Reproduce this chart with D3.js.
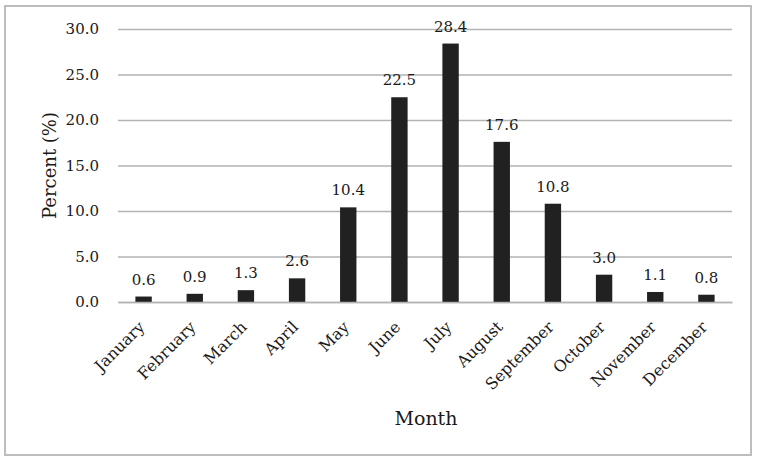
<!DOCTYPE html>
<html>
<head>
<meta charset="utf-8">
<script src="https://cdn.jsdelivr.net/npm/d3@7"></script>
<style>
  body { margin: 0; background: #fff; }
  svg text { font-family: "DejaVu Serif", "Liberation Serif", serif; fill: #1a1a1a; }
</style>
</head>
<body>
<svg id="chart" width="761" height="463"></svg>
<script>
// data
const months = ['January', 'February', 'March', 'April', 'May', 'June', 'July',
  'August', 'September', 'October', 'November', 'December'];
const percent = [0.6, 0.9, 1.3, 2.6, 10.4, 22.5, 28.4, 17.6, 10.8, 3.0, 1.1, 0.8];
const yTicks = [0, 5, 10, 15, 20, 25, 30];

const svg = d3.select('#chart');
const W = 761, H = 463;

// outer frame
svg.append('rect')
  .attr('x', 5).attr('y', 6).attr('width', 746).attr('height', 449)
  .attr('fill', 'none').attr('stroke', '#bdbdbd').attr('stroke-width', 2);

const margin = { top: 29, right: 29, bottom: 161, left: 118 };
const plotW = W - margin.left - margin.right;
const plotH = H - margin.top - margin.bottom;
const g = svg.append('g').attr('transform', `translate(${margin.left},${margin.top})`);

const x = d3.scaleBand().domain(months).range([0, plotW]).paddingInner(0.68).paddingOuter(0.34);
const y = d3.scaleLinear().domain([0, 30]).range([plotH, 0]);

// gridlines
g.append('g')
  .call(d3.axisLeft(y).tickValues(yTicks).tickSize(-plotW).tickFormat(''))
  .call(a => a.select('.domain').remove())
  .selectAll('line').attr('stroke', '#b3b3b3').attr('stroke-width', 1.3);

// y tick labels
g.append('g')
  .call(d3.axisLeft(y).tickValues(yTicks).tickSize(0).tickPadding(19).tickFormat(d3.format('.1f')))
  .call(a => a.select('.domain').remove())
  .selectAll('text').attr('font-size', 15).attr('fill', '#1a1a1a');

// bars
g.selectAll('rect.bar').data(percent).enter().append('rect')
  .attr('class', 'bar')
  .attr('x', (d, i) => x(months[i]))
  .attr('width', x.bandwidth())
  .attr('y', d => y(d))
  .attr('height', d => plotH - y(d))
  .attr('fill', '#212121');

// value labels
g.selectAll('text.val').data(percent).enter().append('text')
  .attr('class', 'val')
  .attr('x', (d, i) => x(months[i]) + x.bandwidth() / 2)
  .attr('y', d => y(d) - 12)
  .attr('text-anchor', 'middle')
  .attr('font-size', 15)
  .text(d => d.toFixed(1));

// x axis
const xAxis = g.append('g').attr('transform', `translate(0,${plotH})`)
  .call(d3.axisBottom(x).tickSize(0).tickPadding(0));
xAxis.select('.domain').attr('stroke', '#b3b3b3').attr('stroke-width', 1.3);
xAxis.selectAll('text')
  .attr('font-size', 16).attr('fill', '#1a1a1a')
  .attr('text-anchor', 'end')
  .attr('dy', 0)
  .attr('transform', 'translate(2,26) rotate(-45)');

// axis titles
svg.append('text')
  .attr('transform', `translate(56,${margin.top + plotH / 2}) rotate(-90)`)
  .attr('text-anchor', 'middle')
  .attr('font-size', 18)
  .text('Percent (%)');

svg.append('text')
  .attr('x', margin.left + plotW / 2 + 1)
  .attr('y', 425)
  .attr('text-anchor', 'middle')
  .attr('font-size', 19)
  .text('Month');
</script>
</body>
</html>
